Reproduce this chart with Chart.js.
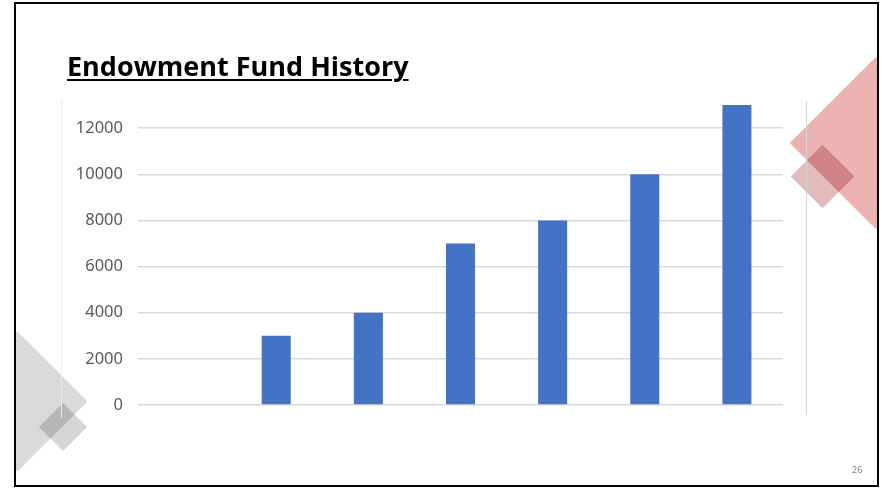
<!DOCTYPE html>
<html>
<head>
<meta charset="utf-8">
<script src="https://cdn.jsdelivr.net/npm/chart.js@4"></script>
<style>
  html, body { margin: 0; padding: 0; background: #fff; }
  body { width: 882px; height: 488px; position: relative; overflow: hidden; }
  #slide { position: absolute; left: 14px; top: 2px; width: 865px; height: 485px;
           box-sizing: border-box; border: 2px solid #000; overflow: hidden; }
  .dia { position: absolute; transform: rotate(45deg); mix-blend-mode: multiply; }
  #title { position: absolute; left: 51px; top: 43px; margin: 0;
           font: bold 27px "Open Sans", sans-serif; color: #000;
           text-decoration: underline; text-decoration-thickness: 2px; text-underline-offset: 3px; }
  #pageNum { position: absolute; left: 836px; top: 459px; font: 9px "Noto Sans", sans-serif; color: #808080; }
  #chart { position: absolute; left: 0; top: 0; }
  .vline { position: absolute; width: 1px; }
</style>
</head>
<body>
<div id="slide">
  <!-- decoracion derecha -->
  <div class="dia" style="left:799px; top:78px; width:122px; height:122px; background:#ecb1b1;"></div>
  <div class="dia" style="left:784px; top:150px; width:45px; height:45px; background:#e2bcbc;"></div>
  <!-- decoracion izquierda -->
  <div class="dia" style="left:-48px; top:348px; width:99px; height:99px; background:#d9d9d9;"></div>
  <div class="dia" style="left:30px; top:406px; width:34px; height:34px; background:#d6d6d6;"></div>
  <div id="title">Endowment Fund History</div>
  <div id="pageNum">26</div>
</div>
<canvas id="chart" width="882" height="488"></canvas>
<div class="vline" style="left:61px; top:100px; height:318px; background:#ebebeb;"></div>
<div class="vline" style="left:806px; top:101px; height:314px; background:#d4d4d4;"></div>

<script>
// datos
const categorias = ['', '', '', '', '', '', ''];
const valores = [null, 3000, 4000, 7000, 8000, 10000, 13000];
const yMax = 14000;      // tope del eje (no se muestra)
const yUltimoTick = 12000;
const yPaso = 2000;

const ctx = document.getElementById('chart').getContext('2d');

const config = {
    type: 'bar',
    data: {
        labels: categorias,
        datasets: [{
            label: 'Fund',
            data: valores,
            backgroundColor: '#4472c4',
            barPercentage: 0.315,
            categoryPercentage: 1
        }]
    },
    options: {
        responsive: false,
        animation: false,
        layout: { padding: { left: 62, right: 99, top: 82, bottom: 83 } },
        plugins: {
            legend: { display: false },
            tooltip: { enabled: false }
        },
        scales: {
            x: { display: false },
            y: {
                min: 0,
                max: yMax,
                afterFit: (scale) => { scale.width = 76; },
                border: { display: false },
                grid: {
                    color: (c) => (c.tick && c.tick.value > yUltimoTick) ? 'rgba(0,0,0,0)' : '#d9d9d9',
                    lineWidth: 1.5,
                    drawTicks: false
                },
                ticks: {
                    stepSize: yPaso,
                    padding: 15,
                    color: '#595959',
                    font: { family: 'Noto Sans', size: 16.5 },
                    callback: (v) => v > yUltimoTick ? '' : String(v)
                }
            }
        }
    }
};

new Chart(ctx, config);
</script>
</body>
</html>
